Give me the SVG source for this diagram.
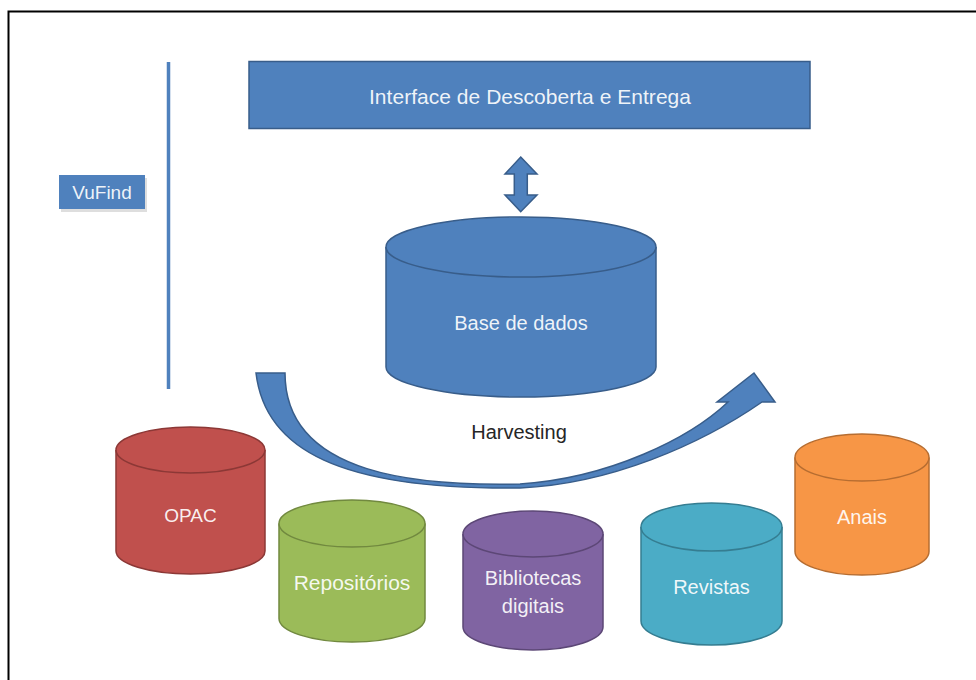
<svg xmlns="http://www.w3.org/2000/svg" width="976" height="680" viewBox="0 0 976 680">
<style>
text{font-family:"Liberation Sans",Arial,sans-serif;text-anchor:middle}
.lbl{fill:#ffffff;fill-opacity:0.92;font-size:20px}
.blue{fill:#4f81bd;stroke:#385d8a;stroke-width:1.5}
.red{fill:#c0504d;stroke:#8c3836;stroke-width:1.5}
.green{fill:#9bbb59;stroke:#71893f;stroke-width:1.5}
.purple{fill:#8064a2;stroke:#5c4776;stroke-width:1.5}
.teal{fill:#4bacc6;stroke:#357d91;stroke-width:1.5}
.orange{fill:#f79646;stroke:#b66d31;stroke-width:1.5}
</style>
<rect width="976" height="680" fill="#ffffff"/>
<path d="M8.5,690 V11.5 H990" fill="none" stroke="#000000" stroke-width="2"/>

<g id="vufind">
<rect x="61" y="178" width="86" height="34" fill="#c8c8c8" opacity="0.6"/>
<rect x="59" y="175" width="86" height="34" fill="#4f81bd"/>
<text x="102" y="199" class="lbl" style="font-size:19px">VuFind</text>
</g>

<g id="divider">
<line x1="168.5" y1="62" x2="168.5" y2="389" stroke="#4f81bd" stroke-width="3.5"/>
</g>

<g id="interface">
<rect x="249" y="61.5" width="561" height="67" class="blue"/>
<text x="530" y="104" class="lbl" style="font-size:21px" textLength="322">Interface de Descoberta e Entrega</text>
</g>

<g id="connectors">
<path id="double-arrow" class="blue" d="M520.7,157 L537,174 L527.3,174 L527.3,195 L537,195 L520.7,211.7 L505,195 L514.3,195 L514.3,174 L505,174 Z"/>
<path id="harvest-arrow" class="blue" d="M256,373 C265,450 340,490 520,488 C610,484 700,445 762,402 L775,402 L754,373 L717,402 L728,402 C690,438 610,478 520,484 C425,486 285,478 285,373 Z"/>
</g>

<g id="base-de-dados">
<path class="blue" d="M386,247 V367 A135,30 0 0 0 656,367 V247"/>
<ellipse cx="521" cy="247" rx="135" ry="30" class="blue"/>
<text x="521" y="330" class="lbl">Base de dados</text>
</g>

<text id="harvesting" x="519" y="439" style="font-size:20px;fill:#262626">Harvesting</text>

<g id="opac">
<path class="red" d="M116,450 V551 A74.5,23 0 0 0 265,551 V450"/>
<ellipse cx="190.5" cy="450" rx="74.5" ry="23" class="red"/>
<text x="190.5" y="522" class="lbl" style="font-size:19px">OPAC</text>
</g>

<g id="repositorios">
<path class="green" d="M279,523.5 V618.5 A73,23.5 0 0 0 425,618.5 V523.5"/>
<ellipse cx="352" cy="523.5" rx="73" ry="23.5" class="green"/>
<text x="352" y="590" class="lbl" style="font-size:21px">Repositórios</text>
</g>

<g id="bibliotecas">
<path class="purple" d="M463,534 V627 A70,23 0 0 0 603,627 V534"/>
<ellipse cx="533" cy="534" rx="70" ry="23" class="purple"/>
<text x="533" y="585" class="lbl">Bibliotecas</text>
<text x="533" y="613" class="lbl">digitais</text>
</g>

<g id="revistas">
<path class="teal" d="M641,527 V621 A70.5,24 0 0 0 782,621 V527"/>
<ellipse cx="711.5" cy="527" rx="70.5" ry="24" class="teal"/>
<text x="711.5" y="594" class="lbl">Revistas</text>
</g>

<g id="anais">
<path class="orange" d="M795,457.5 V551.5 A67,23.5 0 0 0 929,551.5 V457.5"/>
<ellipse cx="862" cy="457.5" rx="67" ry="23.5" class="orange"/>
<text x="862" y="524" class="lbl">Anais</text>
</g>
</svg>
